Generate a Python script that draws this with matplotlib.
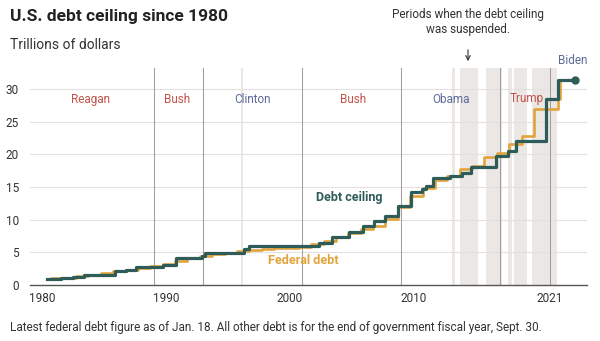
#Recreates the U.S. debt ceiling step chart with matplotlib.
import matplotlib
matplotlib.use('Agg')
import matplotlib.pyplot as plt

#Debt ceiling, trillions of dollars, with the date each level took effect.
ceilingYears = [1980.4, 1981.5, 1982.5, 1983.4, 1984.5, 1985.9, 1986.8, 1987.6,
                1989.8, 1990.8, 1992.9, 1993.15, 1996.3, 1996.7, 2002.4, 2003.4,
                2004.8, 2005.9, 2006.8, 2007.7, 2008.8, 2009.8, 2010.7, 2011.0,
                2011.6, 2013.0, 2013.9, 2014.7, 2016.7, 2017.65, 2018.3, 2020.75,
                2021.7, 2023.05]
ceilingValues = [0.92, 1.08, 1.29, 1.49, 1.57, 2.08, 2.30, 2.80,
                 3.12, 4.15, 4.45, 4.90, 5.50, 5.95, 6.40, 7.38,
                 8.18, 8.97, 9.82, 10.62, 12.10, 14.29, 14.69, 15.19,
                 16.39, 16.70, 17.21, 18.11, 19.81, 20.46, 21.99, 28.40,
                 31.38, 31.38]

#Federal debt, trillions of dollars.
debtYears = [1980.4, 1980.75, 1981.75, 1982.75, 1983.75, 1984.75, 1985.75, 1986.75,
             1987.75, 1988.75, 1989.75, 1990.75, 1991.75, 1992.75, 1993.75, 1994.75,
             1995.75, 1996.75, 1997.75, 1998.75, 1999.75, 2000.75, 2001.75, 2002.75,
             2003.75, 2004.75, 2005.75, 2006.75, 2007.75, 2008.75, 2009.75, 2010.75,
             2011.75, 2012.75, 2013.75, 2014.75, 2015.75, 2016.75, 2017.75, 2018.75,
             2019.75, 2021.7, 2021.85, 2023.05]
debtValues = [0.91, 1.00, 1.14, 1.38, 1.57, 1.82, 2.13, 2.35,
              2.60, 2.86, 3.23, 3.67, 4.07, 4.41, 4.69, 4.97,
              5.22, 5.41, 5.53, 5.66, 5.67, 5.81, 6.23, 6.78,
              7.38, 7.93, 8.51, 9.01, 10.03, 11.91, 13.56, 14.79,
              16.07, 16.74, 17.82, 18.15, 19.57, 20.24, 21.52, 22.72,
              26.95, 28.43, 31.40, 31.40]

#Periods when the debt ceiling was suspended.
suspendStarts = [1996.1, 2013.1, 2013.8, 2014.12, 2015.84, 2017.69, 2018.11, 2019.58]
suspendEnds = [1996.25, 2013.38, 2014.1, 2015.2, 2017.2, 2017.94, 2019.17, 2021.58]

#Presidents, where each term starts and where the name sits.
presidentStarts = [1989.05, 1993.05, 2001.05, 2009.05, 2017.05, 2021.05]
presidentNames = ['Reagan', 'Bush', 'Clinton', 'Bush', 'Obama', 'Trump', 'Biden']
presidentLabelX = [1983.9, 1990.9, 1997.0, 2005.1, 2013.1, 2019.2, 2022.9]
presidentLabelY = [28.4, 28.4, 28.4, 28.4, 28.4, 28.5, 34.3]
presidentParty = ['R', 'R', 'D', 'R', 'D', 'R', 'D']

yearTicks = [1980, 1990, 2000, 2010, 2021]
valueTicks = [0, 5, 10, 15, 20, 25, 30]

teal = '#2e5d59'
gold = '#e3a33c'
red = '#c0544c'
blue = '#5c6a98'

plt.rcParams['font.family'] = ['Roboto', 'DejaVu Sans']

fig = plt.figure(figsize=(6, 3.41), dpi=100)
ax = fig.add_axes([30 / 600, 56 / 341, 557 / 600, 217 / 341])

#Shaded suspension bands.
for start, end in zip(suspendStarts, suspendEnds):
    ax.axvspan(start, end, color='#ebe7e4', lw=0, zorder=0)

#Horizontal gridlines.
for v in valueTicks[1:]:
    ax.axhline(v, color='#e4e0df', lw=0.8, zorder=1)

#Lines where each president took office.
for start in presidentStarts:
    ax.axvline(start, color='#a29c9c', lw=0.75, zorder=1)

ax.step(debtYears, debtValues, where='post', color=gold, lw=1.9, zorder=3)
ax.step(ceilingYears, ceilingValues, where='post', color=teal, lw=2.3, zorder=4)
ax.plot(ceilingYears[-1], ceilingValues[-1], 'o', color=teal, ms=5, zorder=5)

for name, x, y, party in zip(presidentNames, presidentLabelX, presidentLabelY, presidentParty):
    ax.text(x, y, name, color=red if party == 'R' else blue, fontsize=8.5,
            ha='center', va='center', clip_on=False)

ax.text(2004.8, 13.4, 'Debt ceiling', color=teal, fontsize=9, fontweight='bold',
        ha='center', va='center')
ax.text(2001.1, 3.7, 'Federal debt', color=gold, fontsize=9, fontweight='bold',
        ha='center', va='center')

ax.set_xlim(1979.03, 2024.04)
ax.set_ylim(0, 33.2)
ax.set_xticks(yearTicks)
ax.set_yticks(valueTicks)
ax.tick_params(length=0, labelsize=8.5, labelcolor='#333333')
ax.tick_params(axis='y', pad=8)
ax.tick_params(axis='x', pad=5)
for side in ['top', 'right', 'left']:
    ax.spines[side].set_visible(False)
ax.spines['bottom'].set_color('#555555')
ax.spines['bottom'].set_linewidth(1)
ax.set_facecolor('none')

fig.text(10 / 600, 1 - 9 / 341, 'U.S. debt ceiling since 1980', fontsize=12.5,
         fontweight='bold', color='#222222', va='top')
fig.text(10 / 600, 1 - 38 / 341, 'Trillions of dollars', fontsize=10,
         color='#333333', va='top')
fig.text(468 / 600, 1 - 22 / 341, 'Periods when the debt ceiling\nwas suspended.',
         fontsize=8.5, color='#333333', ha='center', va='center', linespacing=1.2)
fig.add_artist(matplotlib.patches.FancyArrowPatch(
    (468 / 600, 1 - 47 / 341), (468 / 600, 1 - 64 / 341), transform=fig.transFigure,
    arrowstyle='->', mutation_scale=8, color='#333333', lw=0.8))
fig.text(10 / 600, 1 - 328 / 341,
         'Latest federal debt figure as of Jan. 18. All other debt is for the end of '
         'government fiscal year, Sept. 30.',
         fontsize=8.5, color='#333333', va='center')

fig.savefig('out.png', dpi=100, facecolor='white')
